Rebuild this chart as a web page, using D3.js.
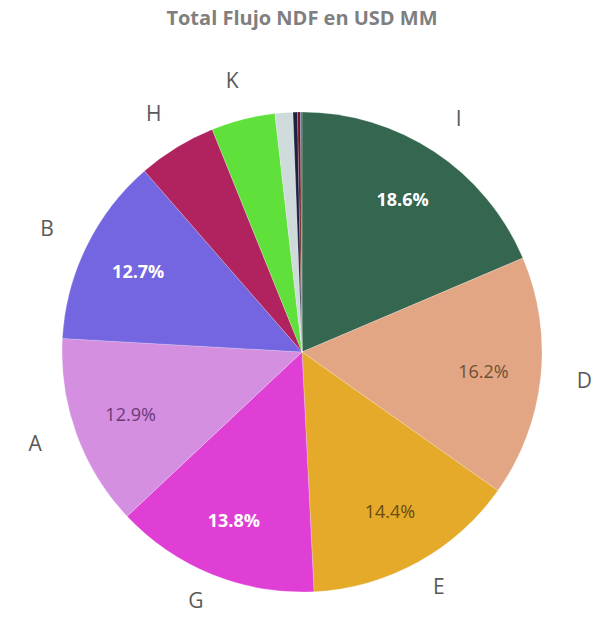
<!DOCTYPE html>
<html>
<head>
<meta charset="utf-8">
<script src="https://cdn.jsdelivr.net/npm/d3@7"></script>
<style>
  body { margin: 0; background: #fff; }
  text { font-family: "Open Sans", "Noto Sans", sans-serif; }
</style>
</head>
<body>
<svg id="pieChart" width="598" height="617"></svg>
<script>
// slices in clockwise order from 12 o'clock
const categories = ['I', 'D', 'E', 'G', 'A', 'B', 'H', 'K', 'C', 'F', 'J', 'L'];
const shares = [18.6, 16.2, 14.4, 13.8, 12.9, 12.7, 5.3, 4.3, 1.2, 0.3, 0.2, 0.1];
const colors = ['#35664f', '#e2a684', '#e5aa2a', '#e03fd6', '#d48fe0', '#7465e0',
                '#b0235f', '#60e03a', '#cfdada', '#1d1f45', '#6b1a1a', '#4f60c4'];
const labelColors = ['#ffffff', '#6e5038', '#6b4a12', '#ffffff', '#6a3a78', '#ffffff'];

const data = categories.map((c, i) => ({ name: c, value: shares[i], color: colors[i] }));

const svg = d3.select("#pieChart");
const cx = 302, cy = 352;
const radius = 240;

svg.append("text")
    .attr("x", cx)
    .attr("y", 25)
    .attr("text-anchor", "middle")
    .attr("font-size", 20)
    .attr("font-weight", "bold")
    .attr("fill", "#7f7f7f")
    .text("Total Flujo NDF en USD MM");

const g = svg.append("g")
    .attr("transform", `translate(${cx}, ${cy})`);

const pie = d3.pie()
    .sort(null)
    .value(d => d.value);

const arc = d3.arc()
    .innerRadius(0)
    .outerRadius(radius);

const innerLabelArc = d3.arc()
    .innerRadius(radius * 0.76)
    .outerRadius(radius * 0.76);

const arcs = pie(data);
const total = d3.sum(shares);
const pct = d3.format(".1%");

// outside names: a bit further out on top than at the bottom
const rx = 284;
const namePos = d => {
    const a = (d.startAngle + d.endAngle) / 2;
    const ry = Math.cos(a) > 0 ? 280 : 268;
    return [rx * Math.sin(a), -ry * Math.cos(a)];
};

g.selectAll(".slice")
    .data(arcs)
    .enter().append("path")
    .attr("class", "slice")
    .attr("d", arc)
    .attr("fill", d => d.data.color)
    .attr("stroke", "#ffffff")
    .attr("stroke-opacity", 0.35)
    .attr("stroke-width", 0.6);

// percent labels on the big slices
g.selectAll(".pct")
    .data(arcs.filter(d => d.data.value > 10))
    .enter().append("text")
    .attr("class", "pct")
    .attr("transform", d => `translate(${innerLabelArc.centroid(d)})`)
    .attr("dy", "0.35em")
    .attr("text-anchor", "middle")
    .attr("font-size", 18)
    .attr("font-weight", (d, i) => labelColors[i] === '#ffffff' ? 'bold' : 'normal')
    .attr("fill", (d, i) => labelColors[i])
    .text(d => pct(d.data.value / total));

// category names outside
g.selectAll(".name")
    .data(arcs.filter(d => d.data.value > 2))
    .enter().append("text")
    .attr("class", "name")
    .attr("transform", d => `translate(${namePos(d)})`)
    .attr("dy", "0.35em")
    .attr("text-anchor", "middle")
    .attr("font-size", 21)
    .attr("fill", "#595959")
    .text(d => d.data.name);
</script>
</body>
</html>
